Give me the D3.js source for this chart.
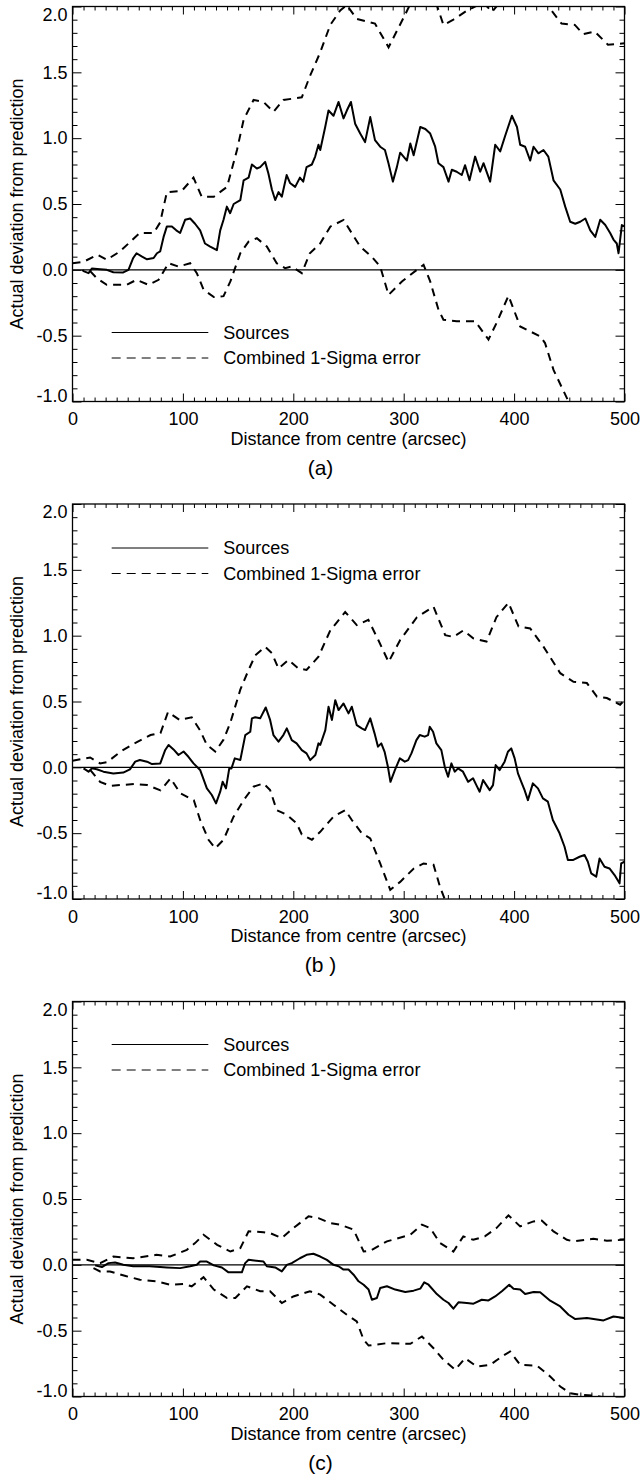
<!DOCTYPE html>
<html><head><meta charset="utf-8">
<script src="https://cdn.jsdelivr.net/npm/d3@7"></script>
<style>
body{margin:0;background:#fff}
svg{display:block}
text{font-family:"Liberation Sans",Arial,Helvetica,sans-serif;fill:#000}
</style>
</head><body>
<svg id="chart" width="641" height="1480"></svg>
<script>
// ---------------- data ----------------
const xTicks = [0, 100, 200, 300, 400, 500];
const yTicks = [-1.0, -0.5, 0.0, 0.5, 1.0, 1.5, 2.0];
const xMinorStep = 10;
const yMinorStep = 0.1;
const panelLabels = ["(a)", "(b )", "(c)"];
const legendLabels = ["Sources", "Combined 1-Sigma error"];
const xTitle = "Distance from centre (arcsec)";
const yTitle = "Actual deviation from prediction";

// panel (a)
const aSources = [[9,0.0],[10,-0.01],[14.5,-0.025],[17.5,0.01],[25,0.005],[31,0.0],[37,-0.018],[46,-0.02],[50.7,0.0],[55,0.09],[58,0.126],[63,0.10],[67.5,0.08],[73.5,0.09],[76.5,0.126],[79.4,0.14],[82.5,0.25],[85.5,0.33],[90,0.33],[94,0.30],[97.5,0.28],[102,0.38],[106.6,0.39],[111,0.35],[115.6,0.30],[120,0.20],[124.7,0.177],[130.8,0.15],[133.8,0.30],[136.8,0.38],[139.8,0.48],[142.8,0.43],[146,0.50],[152,0.53],[155,0.68],[159.5,0.70],[162.5,0.80],[167,0.77],[170,0.78],[174.5,0.82],[177.5,0.73],[180.6,0.61],[183.6,0.53],[186.6,0.59],[189.6,0.555],[194,0.72],[197,0.66],[201.7,0.63],[206,0.70],[209,0.67],[212,0.78],[216.8,0.80],[219.8,0.86],[222.8,0.95],[224.4,0.91],[228.9,1.085],[231.9,1.21],[236.4,1.17],[241,1.275],[245.5,1.15],[248.5,1.21],[252.2,1.275],[256,1.11],[260.6,1.035],[265,0.97],[269.7,1.16],[274,0.985],[278.7,0.935],[283,0.91],[286.2,0.81],[290.2,0.67],[293.8,0.78],[296.8,0.89],[302.9,0.83],[306,0.96],[309,0.87],[315,1.085],[319.6,1.07],[324,1.035],[328.5,0.935],[331.5,0.81],[336,0.78],[340.6,0.67],[343.6,0.76],[348,0.745],[352.6,0.72],[355.6,0.795],[359.6,0.68],[364.7,0.86],[369.3,0.745],[372.3,0.81],[378.3,0.67],[382.9,0.95],[387.4,0.90],[392,1.02],[398,1.17],[402.6,1.085],[405.5,0.95],[410,0.935],[414.6,0.83],[417.6,0.935],[422,0.885],[426.6,0.91],[431,0.86],[435.7,0.68],[441.8,0.61],[446.3,0.48],[450.8,0.365],[455.4,0.35],[459.9,0.365],[464.5,0.39],[469,0.30],[473.5,0.25],[478,0.38],[482.6,0.34],[487,0.28],[490,0.23],[493,0.20],[494.6,0.126],[497.6,0.34],[500,0.33]];
const aUpper = [[0,0.05],[9.6,0.06],[22.8,0.114],[31,0.076],[43,0.14],[61,0.28],[73.5,0.28],[79.4,0.36],[85.5,0.59],[99,0.60],[109.6,0.70],[117,0.555],[128,0.555],[140,0.63],[149,0.91],[155,1.14],[164,1.29],[173,1.275],[182,1.2],[191,1.29],[207.7,1.31],[215,1.47],[224.3,1.65],[233.5,1.86],[242.5,1.97],[248.5,2.01],[257.5,1.905],[274,1.87],[286.3,1.69],[301.4,1.94],[306,2.02],[318,2.1],[330,2.01],[336,1.86],[345,1.9],[357.5,1.97],[372,2.03],[380,1.96],[386,2.02],[400,2.1],[431,2.0],[443,1.87],[455,1.86],[462.7,1.79],[473,1.81],[485,1.71],[500,1.72]];
const aLower = [[16,-0.01],[22,-0.063],[31,-0.114],[49,-0.114],[58,-0.076],[68.9,-0.114],[78,-0.076],[87,0.05],[96,0.025],[106.6,0.05],[112.6,-0.025],[118.7,-0.15],[128,-0.207],[136.8,-0.2],[143,-0.088],[152,0.126],[159.5,0.214],[167,0.24],[176,0.177],[185,0.05],[192.6,0.013],[198.6,0.025],[207.7,-0.025],[215,0.126],[224.3,0.2],[233.5,0.328],[245.5,0.379],[253,0.278],[260.6,0.177],[271,0.1],[278.7,0.025],[286.3,-0.19],[298.4,-0.088],[312,0.0],[318,0.038],[324,-0.088],[331.5,-0.303],[336,-0.379],[348,-0.39],[364.7,-0.39],[376.8,-0.53],[384.3,-0.40],[394.9,-0.197],[405.5,-0.43],[423.6,-0.505],[428,-0.556],[435.7,-0.76],[449.3,-1.0],[470,-1.25],[500,-1.5]];

// panel (b)
const bSources = [[10,-0.008],[14.5,-0.033],[17.5,-0.008],[22,-0.015],[28,-0.033],[37,-0.046],[46,-0.04],[52,-0.015],[56.8,0.043],[61,0.056],[67.5,0.043],[72,0.025],[79.5,0.03],[84,0.132],[87,0.17],[91.5,0.136],[96,0.094],[100.6,0.12],[105,0.08],[109.6,0.03],[115.6,-0.02],[121.7,-0.16],[126.2,-0.21],[130,-0.274],[133.8,-0.185],[136,-0.11],[139,-0.16],[142,-0.008],[144,-0.008],[147,0.068],[152,0.056],[156.5,0.245],[161,0.27],[162.5,0.372],[165.5,0.38],[170,0.372],[175,0.455],[179,0.36],[182,0.245],[186.6,0.195],[191,0.245],[194.1,0.296],[198.6,0.207],[203,0.182],[207.7,0.131],[212,0.106],[215.3,0.055],[220,0.094],[222.8,0.182],[224.4,0.17],[229,0.283],[231.9,0.46],[235,0.36],[238,0.51],[241,0.435],[245.5,0.485],[250,0.41],[253,0.46],[257.5,0.32],[262,0.296],[265,0.283],[269.7,0.372],[273.6,0.258],[276.7,0.157],[279.7,0.182],[282.7,0.118],[285.7,0.004],[288,-0.11],[292,-0.021],[296.5,0.068],[301,0.043],[304,0.055],[307,0.106],[311.5,0.207],[314.5,0.245],[319,0.233],[322.1,0.245],[323.6,0.308],[326.6,0.27],[329.6,0.182],[334.1,0.131],[337.2,0.004],[340.2,-0.071],[343.2,0.03],[346.2,-0.033],[349.2,-0.008],[353.7,-0.033],[358.3,-0.11],[362.8,-0.083],[365.8,-0.135],[368.8,-0.185],[371.9,-0.096],[374.9,-0.135],[377.9,-0.173],[380.9,-0.135],[383.3,0.017],[386.9,-0.021],[391.4,0.043],[394.4,0.118],[397.4,0.144],[400.5,0.068],[403.5,-0.046],[406.5,-0.11],[409.5,-0.173],[412.5,-0.249],[417,-0.122],[421.6,-0.16],[426.1,-0.236],[430.6,-0.261],[435.1,-0.40],[441.2,-0.501],[445.7,-0.603],[448.7,-0.704],[453.2,-0.704],[459.3,-0.679],[463.8,-0.666],[466.8,-0.717],[469.8,-0.805],[474.4,-0.83],[477.4,-0.692],[481.9,-0.755],[486.4,-0.768],[491,-0.818],[495.5,-0.881],[497,-0.73],[500,-0.717]];
const bUpper = [[0,0.05],[16,0.075],[25,0.03],[31.5,0.04],[43.6,0.12],[55.6,0.18],[70.7,0.245],[79.7,0.26],[86.5,0.42],[97,0.36],[108,0.38],[115.6,0.28],[121.7,0.17],[129.3,0.12],[136.8,0.21],[143,0.34],[152,0.59],[159.5,0.74],[165.5,0.85],[174.5,0.915],[180.6,0.867],[186.6,0.75],[195.6,0.815],[204.7,0.75],[212,0.74],[222.8,0.84],[233.5,1.04],[247,1.18],[257.5,1.08],[268,1.12],[277,0.967],[286.3,0.80],[296.8,0.967],[312,1.14],[327,1.22],[337.6,1.004],[345,0.99],[354,1.04],[363,0.98],[375,0.955],[384,1.14],[394.9,1.25],[404,1.07],[414.6,1.055],[426.6,0.917],[441.8,0.715],[453.8,0.65],[465.9,0.64],[475,0.537],[484,0.526],[496,0.475],[500,0.51]];
const bLower = [[16,-0.02],[25,-0.11],[34,-0.14],[55.6,-0.127],[67.7,-0.135],[79.7,-0.175],[88.8,-0.084],[97.8,-0.198],[109.9,-0.25],[115.6,-0.40],[123.2,-0.55],[129.3,-0.615],[136.8,-0.55],[145.9,-0.375],[155,-0.25],[164,-0.147],[173,-0.122],[179,-0.173],[185,-0.325],[194,-0.36],[203,-0.425],[207.7,-0.51],[216.8,-0.55],[224.4,-0.49],[236.4,-0.375],[247,-0.325],[253,-0.40],[262,-0.50],[269.7,-0.54],[278.7,-0.73],[287.8,-0.93],[296.8,-0.87],[308.9,-0.77],[318,-0.73],[327,-0.74],[333,-0.91],[337.6,-1.01],[360,-1.2],[400,-1.4],[450,-1.6],[500,-1.8]];

// panel (c)
const cSources = [[20.5,-0.004],[26.6,-0.017],[32.6,0.013],[38.6,0.018],[46,0.0],[55,-0.011],[70,-0.011],[85.5,-0.02],[97.5,-0.025],[106.6,-0.011],[112.6,0.0],[115.6,0.025],[121.7,0.025],[128,-0.004],[135.3,-0.02],[141.3,-0.057],[153.4,-0.057],[156.4,0.013],[159.5,0.038],[173,0.025],[176,-0.011],[183.6,-0.02],[189.6,-0.05],[194.1,0.0],[198.6,0.013],[206,0.05],[212,0.076],[218.2,0.084],[224.4,0.063],[230.4,0.038],[236.4,0.0],[241,-0.011],[245.5,-0.036],[250,-0.036],[254.6,-0.075],[259.1,-0.125],[263.7,-0.151],[268.2,-0.188],[271.2,-0.265],[275.7,-0.252],[278.7,-0.176],[284.8,-0.163],[292.3,-0.188],[301.4,-0.206],[309,-0.196],[315,-0.181],[318.6,-0.133],[322.5,-0.151],[330,-0.222],[336,-0.265],[340.6,-0.29],[345,-0.333],[349.6,-0.285],[357.2,-0.29],[363.2,-0.295],[370.7,-0.265],[376.8,-0.27],[382.8,-0.24],[388.9,-0.201],[395.6,-0.151],[399.5,-0.181],[405.5,-0.188],[410,-0.222],[417.6,-0.206],[423.6,-0.209],[432.7,-0.272],[441.8,-0.316],[449.3,-0.379],[455.4,-0.412],[466,-0.404],[481,-0.422],[490,-0.392],[500,-0.404]];
const cUpper = [[0,0.038],[13,0.038],[25,0.013],[37,0.063],[55,0.05],[76,0.076],[88.5,0.063],[103.6,0.114],[111,0.165],[118.7,0.228],[131,0.152],[143,0.101],[152,0.127],[159.5,0.254],[173,0.248],[179,0.241],[189.6,0.203],[200,0.279],[213.8,0.368],[222.8,0.355],[233.5,0.317],[242.5,0.305],[254.6,0.267],[263.7,0.101],[269.7,0.107],[284.8,0.178],[306,0.229],[316.5,0.305],[324,0.279],[333,0.165],[345,0.101],[354,0.216],[363,0.19],[373.5,0.216],[384,0.279],[394.9,0.376],[405.5,0.292],[417.6,0.33],[425,0.336],[435.7,0.254],[447.8,0.19],[453.8,0.178],[471.9,0.198],[484,0.183],[499,0.19],[500,0.19]];
const cLower = [[19,-0.025],[25,-0.05],[34,-0.05],[49,-0.087],[61,-0.113],[76,-0.125],[88.5,-0.151],[100.6,-0.145],[108,-0.163],[118.7,-0.094],[128,-0.188],[140,-0.252],[147.5,-0.252],[158,-0.163],[170,-0.201],[179,-0.201],[189.6,-0.29],[200,-0.24],[215,-0.201],[224.4,-0.226],[236.4,-0.303],[248.5,-0.379],[257.5,-0.43],[263.7,-0.569],[268.2,-0.613],[284.8,-0.595],[306,-0.6],[316.5,-0.544],[327,-0.633],[336,-0.721],[346.6,-0.797],[355.6,-0.709],[366.2,-0.772],[378.3,-0.76],[388.9,-0.696],[396.4,-0.658],[405.5,-0.76],[420.6,-0.765],[432.7,-0.848],[441.8,-0.924],[450.8,-0.975],[459.9,-0.987],[472,-0.993],[484,-1.01],[500,-1.03]];

// ---------------- layout ----------------
const W = 641;
const left = 72.5, right = 624.5, plotH = 395;
const panels = [
  {top: 6.5,    src: aSources, up: aUpper, lo: aLower, label: panelLabels[0], legY: 326},
  {top: 504,    src: bSources, up: bUpper, lo: bLower, label: panelLabels[1], legY: 44},
  {top: 1001.5, src: cSources, up: cUpper, lo: cLower, label: panelLabels[2], legY: 43}
];
const FS = 18;

const svg = d3.select("#chart");

panels.forEach((p, i) => {
  const g = svg.append("g").attr("transform", `translate(0,${p.top})`);
  const x = d3.scaleLinear().domain([0, 500]).range([left, right]);
  const y = d3.scaleLinear().domain([-1, 2]).range([plotH, 0]);

  const clipId = "clip" + i;
  g.append("clipPath").attr("id", clipId)
    .append("rect").attr("x", left).attr("y", 0).attr("width", right - left).attr("height", plotH);

  const xMinor = d3.range(0, 500 + 1e-9, xMinorStep).filter(v => !xTicks.includes(v));
  const yMinor = d3.range(-1, 2 + 1e-9, yMinorStep).map(v => +v.toFixed(2)).filter(v => !yTicks.some(t => Math.abs(t - v) < 1e-6));

  const styleAxis = sel => {
    sel.select(".domain").remove();
    sel.selectAll("line").attr("stroke", "#000").attr("stroke-width", 1);
    sel.selectAll("text").attr("font-size", FS).attr("font-family", '"Liberation Sans",Arial,sans-serif').attr("fill", "#000");
  };

  // bottom
  g.append("g").attr("transform", `translate(0,${plotH})`)
    .call(d3.axisBottom(x).tickValues(xTicks).tickSize(-8).tickPadding(11).tickFormat(d3.format("d")))
    .call(styleAxis);
  g.append("g").attr("transform", `translate(0,${plotH})`)
    .call(d3.axisBottom(x).tickValues(xMinor).tickSize(-4).tickFormat(""))
    .call(styleAxis);
  // top
  g.append("g")
    .call(d3.axisTop(x).tickValues(xTicks).tickSize(-8).tickFormat(""))
    .call(styleAxis);
  g.append("g")
    .call(d3.axisTop(x).tickValues(xMinor).tickSize(-4).tickFormat(""))
    .call(styleAxis);
  // left
  const yAx = g.append("g").attr("transform", `translate(${left},0)`)
    .call(d3.axisLeft(y).tickValues(yTicks).tickSize(-9).tickPadding(5).tickFormat(d => d.toFixed(1)))
    .call(styleAxis);
  // end labels sit inside the frame extent, as in the reference
  yAx.selectAll(".tick text").attr("dy", d => d === 2 ? "0.76em" : (d === -1 ? "-0.02em" : "0.32em"));
  g.append("g").attr("transform", `translate(${left},0)`)
    .call(d3.axisLeft(y).tickValues(yMinor).tickSize(-5).tickFormat(""))
    .call(styleAxis);
  // right
  g.append("g").attr("transform", `translate(${right},0)`)
    .call(d3.axisRight(y).tickValues(yTicks).tickSize(-9).tickFormat(""))
    .call(styleAxis);
  g.append("g").attr("transform", `translate(${right},0)`)
    .call(d3.axisRight(y).tickValues(yMinor).tickSize(-5).tickFormat(""))
    .call(styleAxis);

  // frame
  g.append("rect").attr("x", left).attr("y", 0).attr("width", right - left).attr("height", plotH)
    .attr("fill", "none").attr("stroke", "#000").attr("stroke-width", 1.3);

  // zero line
  g.append("line").attr("x1", left).attr("x2", right).attr("y1", y(0)).attr("y2", y(0))
    .attr("stroke", "#000").attr("stroke-width", 1.2);

  const line = d3.line().x(d => x(d[0])).y(d => y(d[1]));
  const plotG = g.append("g").attr("clip-path", `url(#${clipId})`);
  plotG.append("path").datum(p.up).attr("d", line)
    .attr("fill", "none").attr("stroke", "#000").attr("stroke-width", 2).attr("stroke-dasharray", "8,6");
  plotG.append("path").datum(p.lo).attr("d", line)
    .attr("fill", "none").attr("stroke", "#000").attr("stroke-width", 2).attr("stroke-dasharray", "8,6");
  plotG.append("path").datum(p.src).attr("d", line)
    .attr("fill", "none").attr("stroke", "#000").attr("stroke-width", 2).attr("stroke-linejoin", "round");

  // legend
  const lx0 = 111.7, lx1 = 208.3, tx = 223.3;
  g.append("line").attr("x1", lx0).attr("x2", lx1).attr("y1", p.legY).attr("y2", p.legY)
    .attr("stroke", "#000").attr("stroke-width", 1);
  g.append("text").attr("x", tx).attr("y", p.legY).attr("dy", "0.35em").attr("font-size", FS).text(legendLabels[0]);
  g.append("line").attr("x1", lx0).attr("x2", lx1).attr("y1", p.legY + 25.5).attr("y2", p.legY + 25.5)
    .attr("stroke", "#000").attr("stroke-width", 1).attr("stroke-dasharray", "9,6");
  g.append("text").attr("x", tx).attr("y", p.legY + 25.5).attr("dy", "0.35em").attr("font-size", FS).text(legendLabels[1]);

  // axis titles
  g.append("text").attr("x", (left + right) / 2).attr("y", plotH + 43).attr("text-anchor", "middle")
    .attr("font-size", FS).text(xTitle);
  g.append("text").attr("transform", `translate(23,${plotH / 2}) rotate(-90)`).attr("text-anchor", "middle")
    .attr("font-size", FS).text(yTitle);
  // panel label
  g.append("text").attr("x", W / 2).attr("y", plotH + 73).attr("text-anchor", "middle")
    .attr("font-size", 21).text(p.label);
});
</script>
</body></html>
